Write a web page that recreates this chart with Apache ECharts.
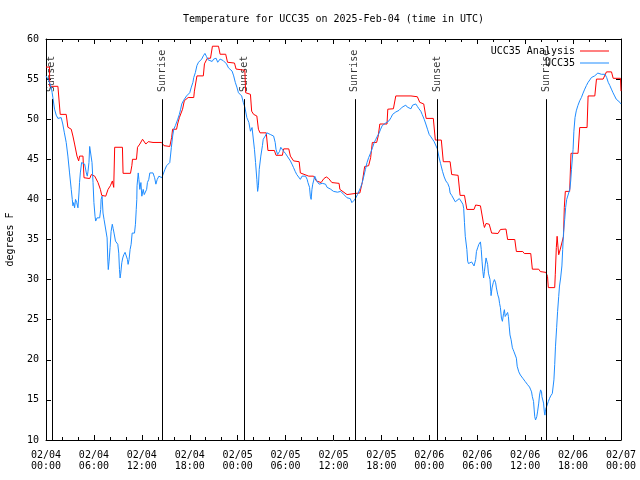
<!DOCTYPE html>
<html><head><meta charset="utf-8">
<script src="https://cdn.jsdelivr.net/npm/echarts@6/dist/echarts.min.js"></script>
<style>html,body{margin:0;padding:0;background:#fff}#c{width:640px;height:480px}</style>
</head><body><div id="c"></div>
<script>
const titleText = 'Temperature for UCC35 on 2025-Feb-04 (time in UTC)';
const yName = 'degrees F';
const xTickLabels = ['02/04\n00:00','02/04\n06:00','02/04\n12:00','02/04\n18:00','02/05\n00:00','02/05\n06:00','02/05\n12:00','02/05\n18:00','02/06\n00:00','02/06\n06:00','02/06\n12:00','02/06\n18:00','02/07\n00:00'];
const analysisName = 'UCC35 Analysis';
const obsName = 'UCC35';
// [hours since 02/04 00:00 UTC, deg F]
const analysisData = [
[0,56.5],[0.44,56.5],[0.46,54.1],[1.49,54.1],[1.78,50.6],[2.53,50.6],[2.74,49.0],[3.16,48.75],[3.37,47.9],[3.58,46.9],[3.88,45.4],[4.09,44.8],[4.21,45.4],[4.63,45.4],[4.76,42.7],[5.47,42.6],[5.68,43.1],[6.1,42.9],[6.51,42.1],[6.81,41.25],[6.98,40.5],[7.48,40.4],[7.77,41.25],[8.06,41.7],[8.31,42.3],[8.48,41.5],[8.6,46.5],[9.57,46.5],[9.65,43.25],[10.58,43.25],[10.75,44.2],[10.83,45],[11.33,45],[11.46,46.5],[11.75,46.9],[12.09,47.5],[12.5,46.9],[12.8,47.2],[13.4,47.1],[14.47,47.1],[14.77,46.7],[15.5,46.6],[15.73,47.7],[15.85,48.75],[16.35,48.75],[16.48,49.4],[16.7,50.2],[17.1,51.25],[17.32,52.3],[17.8,52.7],[18.5,52.7],[18.58,53.5],[18.9,55.4],[19.7,55.4],[19.84,56.9],[20.2,57.6],[20.6,57.6],[20.84,59.1],[21.6,59.1],[21.8,58.1],[22.5,58.1],[22.73,57.1],[23.6,57.0],[23.8,56.25],[24.9,56.1],[25.0,53.3],[25.6,53.1],[25.75,51.0],[26.0,50.6],[26.4,50.4],[26.6,48.75],[26.8,48.3],[27.58,48.3],[27.79,46.1],[28.6,46.1],[28.8,45.5],[29.6,45.5],[29.76,46.3],[30.4,46.3],[30.6,45.4],[31.0,44.8],[31.7,44.7],[31.85,43.3],[32.9,42.9],[33.5,42.9],[33.86,42.3],[34.45,42.1],[34.8,42.6],[35.1,42.8],[35.4,42.6],[35.8,42.1],[36.7,42.0],[36.8,41.25],[37.7,40.6],[38.8,40.75],[39.3,40.8],[39.6,42.1],[39.9,44.1],[40.4,44.2],[40.65,45.2],[40.86,47.1],[41.4,47.1],[41.6,47.9],[41.8,49.4],[42.7,49.4],[42.8,51.25],[43.5,51.3],[43.8,52.9],[45.7,52.9],[46.5,52.8],[46.8,52.1],[47.3,51.9],[47.6,50.1],[48.5,50.1],[48.75,47.4],[49.5,47.4],[49.75,44.7],[50.6,44.7],[50.8,43.1],[51.6,43.0],[51.85,40.5],[52.4,40.5],[52.7,38.75],[53.6,38.75],[53.8,39.3],[54.4,39.2],[54.8,36.9],[54.9,36.5],[55.1,37.0],[55.5,36.9],[55.8,35.8],[56.6,35.75],[56.9,36.25],[57.6,36.3],[57.8,35.0],[58.7,35.0],[58.9,33.5],[59.7,33.5],[59.9,33.25],[60.7,33.25],[60.9,31.3],[61.7,31.3],[61.9,31.0],[62.6,30.9],[62.8,30.4],[62.9,29.0],[63.7,29.0],[63.77,30.6],[63.9,34.0],[64.0,35.4],[64.1,34.2],[64.2,33.1],[64.4,33.8],[64.65,33.8],[64.8,35.4],[64.9,39.0],[65.03,41.0],[65.57,41.0],[65.74,45.75],[66.62,45.75],[66.83,48.96],[67.75,48.96],[67.88,52.9],[68.72,52.9],[68.93,55.0],[69.76,55.0],[70.18,55.9],[70.81,55.9],[71.02,55.1],[71.94,55.1],[72.0,53.5]
];
const obsData = [
[0,55.4],[0.15,55.2],[0.35,54.8],[0.65,54.0],[0.77,53.3],[0.86,52.7],[1.07,51.25],[1.28,50.5],[1.49,50.1],[1.7,50.3],[1.9,50.2],[2.1,49.4],[2.3,48.3],[2.53,47.1],[2.74,45.4],[2.95,43.3],[3.16,41.25],[3.29,40.0],[3.37,39.2],[3.47,39.6],[3.58,38.95],[3.7,40.0],[3.85,39.6],[4.0,38.95],[4.13,40.8],[4.2,42.1],[4.3,43.3],[4.46,44.6],[4.63,44.8],[4.84,44.4],[5.05,43.3],[5.17,42.9],[5.26,43.5],[5.38,44.6],[5.47,46.6],[5.68,46.6],[5.76,44.6],[5.89,42.1],[6.0,39.6],[6.14,37.9],[6.22,37.3],[6.39,37.7],[6.6,37.7],[6.72,37.7],[6.85,38.75],[6.9,40.0],[7.02,40.4],[7.14,38.3],[7.27,37.5],[7.52,37.3],[7.65,35.2],[7.73,32.7],[7.8,31.25],[7.9,32.3],[8.02,34.0],[8.15,36.0],[8.3,36.9],[8.4,36.4],[8.52,35.8],[8.7,34.8],[8.85,34.6],[8.99,34.4],[9.11,33.3],[9.2,31.25],[9.28,30.2],[9.36,30.8],[9.49,32.1],[9.61,32.7],[9.74,33.1],[9.9,33.4],[10.07,33.5],[10.2,32.5],[10.28,31.9],[10.4,32.5],[10.53,33.75],[10.66,34.4],[10.79,35.8],[10.9,36.0],[11.08,35.8],[11.2,36.9],[11.3,38.75],[11.37,40.0],[11.4,41.7],[11.55,43.3],[11.63,42.5],[11.75,41.25],[11.88,42.1],[12.0,40.4],[12.17,41.25],[12.3,40.6],[12.47,40.4],[12.6,41.25],[12.7,42.1],[12.87,42.5],[13.0,43.3],[13.4,43.3],[13.6,42.7],[13.76,41.9],[13.93,42.5],[14.14,42.9],[14.35,42.9],[14.5,42.7],[14.7,42.9],[14.9,43.75],[15.1,44.2],[15.3,44.3],[15.5,44.6],[15.7,46.5],[15.86,47.9],[16.0,48.75],[16.2,49.2],[16.36,49.4],[16.5,50.0],[16.7,50.6],[16.86,51.25],[17.0,51.9],[17.2,52.3],[17.4,52.5],[17.6,52.9],[17.8,53.1],[18.0,53.3],[18.2,54.0],[18.4,54.6],[18.5,55.2],[18.7,55.8],[18.9,56.7],[19.1,57.1],[19.3,57.3],[19.5,57.5],[19.7,57.9],[19.9,58.2],[20.1,57.8],[20.3,57.4],[20.55,57.6],[20.8,57.2],[21.0,57.5],[21.3,57.6],[21.5,57.1],[21.8,57.5],[22.0,57.7],[22.2,57.3],[22.4,57.1],[22.6,56.9],[22.85,56.4],[23.1,56.5],[23.3,56.0],[23.5,55.4],[23.7,54.6],[23.9,54.0],[24.1,53.3],[24.3,53.1],[24.5,52.9],[24.7,52.1],[24.9,51.5],[25.15,50.2],[25.4,49.6],[25.6,48.5],[25.7,48.3],[25.8,48.96],[25.9,48.75],[26.1,46.25],[26.24,44.6],[26.4,42.5],[26.5,41.0],[26.6,41.7],[26.7,43.75],[26.9,45.4],[27.1,46.7],[27.2,47.5],[27.45,47.9],[27.66,48.3],[27.87,48.1],[28.08,48.1],[28.3,48.1],[28.5,47.9],[28.7,47.1],[28.8,46.25],[29.0,45.6],[29.1,45.4],[29.25,46.0],[29.4,46.5],[29.6,46.5],[29.75,46.0],[29.97,45.75],[30.2,45.4],[30.4,45.2],[30.6,44.8],[30.8,44.4],[31.0,43.96],[31.2,43.5],[31.4,43.1],[31.6,42.9],[31.85,42.5],[32.06,42.9],[32.3,42.7],[32.5,42.9],[32.7,42.5],[32.8,42.1],[33.0,41.5],[33.1,40.4],[33.2,40.0],[33.3,41.25],[33.4,41.9],[33.5,42.3],[33.65,42.9],[33.8,42.7],[33.9,42.3],[34.0,42.1],[34.2,41.9],[34.36,42.1],[34.6,42.0],[34.8,42.1],[35.0,41.9],[35.2,41.5],[35.4,41.3],[35.6,41.3],[35.8,41.25],[36.0,41.0],[36.25,40.8],[36.5,40.9],[36.7,40.75],[36.9,41.0],[37.1,40.8],[37.3,40.6],[37.5,40.4],[37.7,40.2],[37.9,40.0],[38.1,40.1],[38.3,39.6],[38.6,39.9],[38.8,40.2],[39.0,40.6],[39.2,40.8],[39.4,41.5],[39.6,42.1],[39.8,42.9],[40.0,43.75],[40.2,44.6],[40.4,45.2],[40.65,45.8],[40.9,46.5],[41.1,47.1],[41.3,47.5],[41.5,47.9],[41.7,48.25],[41.9,48.75],[42.1,49.2],[42.3,49.4],[42.5,49.5],[42.7,49.6],[42.95,49.8],[43.2,50.2],[43.4,50.6],[43.6,50.8],[43.8,50.9],[44.0,51.0],[44.2,51.1],[44.4,51.25],[44.6,51.5],[44.8,51.7],[45.05,51.75],[45.25,51.5],[45.5,51.7],[45.7,51.3],[45.9,51.75],[46.1,51.7],[46.3,51.9],[46.5,51.6],[46.7,51.3],[46.93,51.0],[47.1,50.6],[47.35,50.0],[47.56,49.4],[47.77,48.75],[47.98,48.1],[48.2,47.8],[48.4,47.5],[48.6,47.2],[48.8,47.0],[49.0,46.3],[49.2,45.3],[49.4,44.5],[49.65,43.5],[49.86,42.8],[50.07,42.3],[50.3,42.0],[50.5,41.5],[50.6,40.8],[50.8,40.5],[51.0,40.3],[51.25,39.7],[51.37,39.5],[51.5,39.8],[51.75,40.1],[51.96,39.8],[52.2,39.4],[52.3,38.9],[52.4,37.1],[52.5,35.4],[52.7,33.75],[52.8,32.3],[52.9,32.0],[53.1,32.1],[53.3,32.2],[53.45,32.0],[53.6,31.7],[53.8,32.5],[53.9,33.5],[54.05,33.96],[54.2,34.4],[54.4,34.7],[54.5,33.75],[54.6,32.3],[54.7,31.04],[54.8,30.2],[54.9,31.04],[55.1,32.7],[55.2,32.5],[55.3,31.9],[55.4,30.8],[55.6,30.0],[55.7,28.5],[55.73,28.0],[55.85,28.96],[56.0,29.6],[56.15,30.0],[56.3,29.6],[56.4,28.96],[56.57,28.1],[56.7,27.7],[56.8,27.0],[56.9,26.5],[57.03,25.2],[57.15,24.8],[57.3,25.8],[57.4,26.25],[57.5,25.4],[57.65,25.6],[57.8,25.9],[57.9,25.4],[58.0,24.2],[58.1,23.1],[58.24,22.5],[58.4,21.5],[58.5,21.25],[58.6,21.0],[58.8,20.8],[58.9,20.2],[59.0,19.2],[59.2,18.5],[59.3,18.3],[59.4,18.1],[59.5,17.9],[59.7,17.7],[59.8,17.5],[59.9,17.7],[60.0,17.3],[60.2,17.1],[60.3,16.9],[60.4,16.7],[60.55,16.6],[60.7,16.25],[60.8,16.0],[60.9,15.4],[61.05,14.8],[61.13,13.75],[61.2,12.9],[61.3,12.5],[61.45,12.9],[61.55,13.5],[61.7,14.6],[61.8,15.6],[61.93,16.25],[62.05,16.0],[62.1,15.4],[62.3,14.6],[62.4,13.5],[62.47,13.1],[62.55,13.8],[62.7,14.2],[62.8,14.4],[62.9,14.8],[63.06,15.2],[63.2,15.5],[63.3,15.6],[63.4,15.8],[63.6,17.5],[63.7,19.4],[63.8,21.7],[63.94,24.0],[64.06,26.0],[64.2,27.9],[64.3,29.2],[64.44,30.2],[64.6,31.7],[64.7,33.75],[64.8,35.8],[64.95,37.5],[65.07,39.0],[65.2,40.0],[65.45,40.8],[65.6,41.3],[65.7,42.3],[65.8,43.75],[66.0,46.25],[66.1,48.5],[66.24,50.2],[66.4,51.04],[66.6,51.7],[66.83,52.3],[67.04,52.7],[67.25,53.25],[67.46,53.75],[67.67,54.2],[67.88,54.6],[68.1,54.9],[68.3,55.2],[68.5,55.4],[68.7,55.4],[68.9,55.6],[69.1,55.75],[69.3,55.6],[69.55,55.6],[69.8,55.7],[70.0,55.6],[70.2,55.2],[70.4,54.6],[70.6,54.2],[70.8,53.75],[71.0,53.3],[71.2,52.9],[71.4,52.5],[71.65,52.3],[71.86,52.1],[72.0,51.9]
];
const sunHours = [0.73, 14.55, 24.86, 38.68, 48.98, 62.68];
const sunLabels = ['Sunset','Sunrise','Sunset','Sunrise','Sunset','Sunrise'];
const sunLineBottom = 10;
const sunLineTop = 52.5;
const sunLabelAt = 53.4;

const FONT = "'DejaVu Sans Mono', monospace";
const txt = {fontFamily: FONT, fontSize: 10, color: '#000'};
const chart = echarts.init(document.getElementById('c'), null, {renderer: 'canvas'});
const axisCommon = {
  type: 'value', gridIndex: 0,
  axisLine: {show: true, onZero: false, lineStyle: {color: '#000', width: 1}},
  axisTick: {show: true, inside: true, length: 5, lineStyle: {color: '#000'}},
  splitLine: {show: false}
};
const legendCommon = {right: 31, padding: 0, align: 'right', itemWidth: 29, itemHeight: 1,
  icon: 'rect', textStyle: txt, selectedMode: false};
chart.setOption({
  animation: false,
  backgroundColor: '#fff',
  title: {text: titleText, left: 333.5, top: 14, padding: 0, textAlign: 'center',
    textStyle: Object.assign({fontWeight: 'normal'}, txt)},
  grid: {left: 46, right: 19, top: 39, bottom: 40, containLabel: false, outerBoundsMode: 'none'},
  legend: [
    Object.assign({data: [analysisName], top: 46}, legendCommon),
    Object.assign({data: [obsName], top: 58}, legendCommon)
  ],
  xAxis: [
    Object.assign({}, axisCommon, {position: 'bottom', min: 0, max: 72, interval: 6,
      minorTick: {show: true, splitNumber: 3, length: 3, lineStyle: {color: '#000'}},
      axisLabel: Object.assign({margin: 10, lineHeight: 11, showMinLabel: true, showMaxLabel: true, hideOverlap: false,
        formatter: v => xTickLabels[Math.round(v / 6)] || ''}, txt)}),
    Object.assign({}, axisCommon, {position: 'top', min: 0, max: 72, interval: 6,
      minorTick: {show: true, splitNumber: 3, length: 3, lineStyle: {color: '#000'}},
      axisLabel: {show: false}})
  ],
  yAxis: [
    Object.assign({}, axisCommon, {position: 'left', min: 10, max: 60, interval: 5,
      name: yName, nameLocation: 'middle', nameGap: 31, nameTextStyle: txt,
      axisLabel: Object.assign({margin: 7}, txt)}),
    Object.assign({}, axisCommon, {position: 'right', min: 10, max: 60, interval: 5, axisLabel: {show: false}})
  ],
  series: [
    {name: 'sun', type: 'scatter', xAxisIndex: 0, yAxisIndex: 0, symbolSize: 0, silent: true, z: 1,
      data: sunHours.map((h, i) => ({value: [h, sunLabelAt], name: sunLabels[i]})),
      label: {show: true, formatter: '{b}', rotate: 90, position: [0, 0], align: 'left', verticalAlign: 'middle',
        fontFamily: FONT, fontSize: 10, color: '#000'},
      markLine: {silent: true, symbol: ['none', 'none'], label: {show: false},
        lineStyle: {color: '#000', width: 1, type: 'solid'},
        emphasis: {disabled: true},
        data: sunHours.map(h => [{coord: [h, sunLineBottom]}, {coord: [h, sunLineTop]}])}
    },
    {name: analysisName, type: 'line', xAxisIndex: 0, yAxisIndex: 0, symbol: 'none', showSymbol: false,
      lineStyle: {color: '#ff0000', width: 1}, itemStyle: {color: '#ff0000'}, data: analysisData, z: 3, clip: true},
    {name: obsName, type: 'line', xAxisIndex: 0, yAxisIndex: 0, symbol: 'none', showSymbol: false,
      lineStyle: {color: '#1e8cff', width: 1}, itemStyle: {color: '#1e8cff'}, data: obsData, z: 4, clip: true}
  ]
});
</script>
</body></html>
